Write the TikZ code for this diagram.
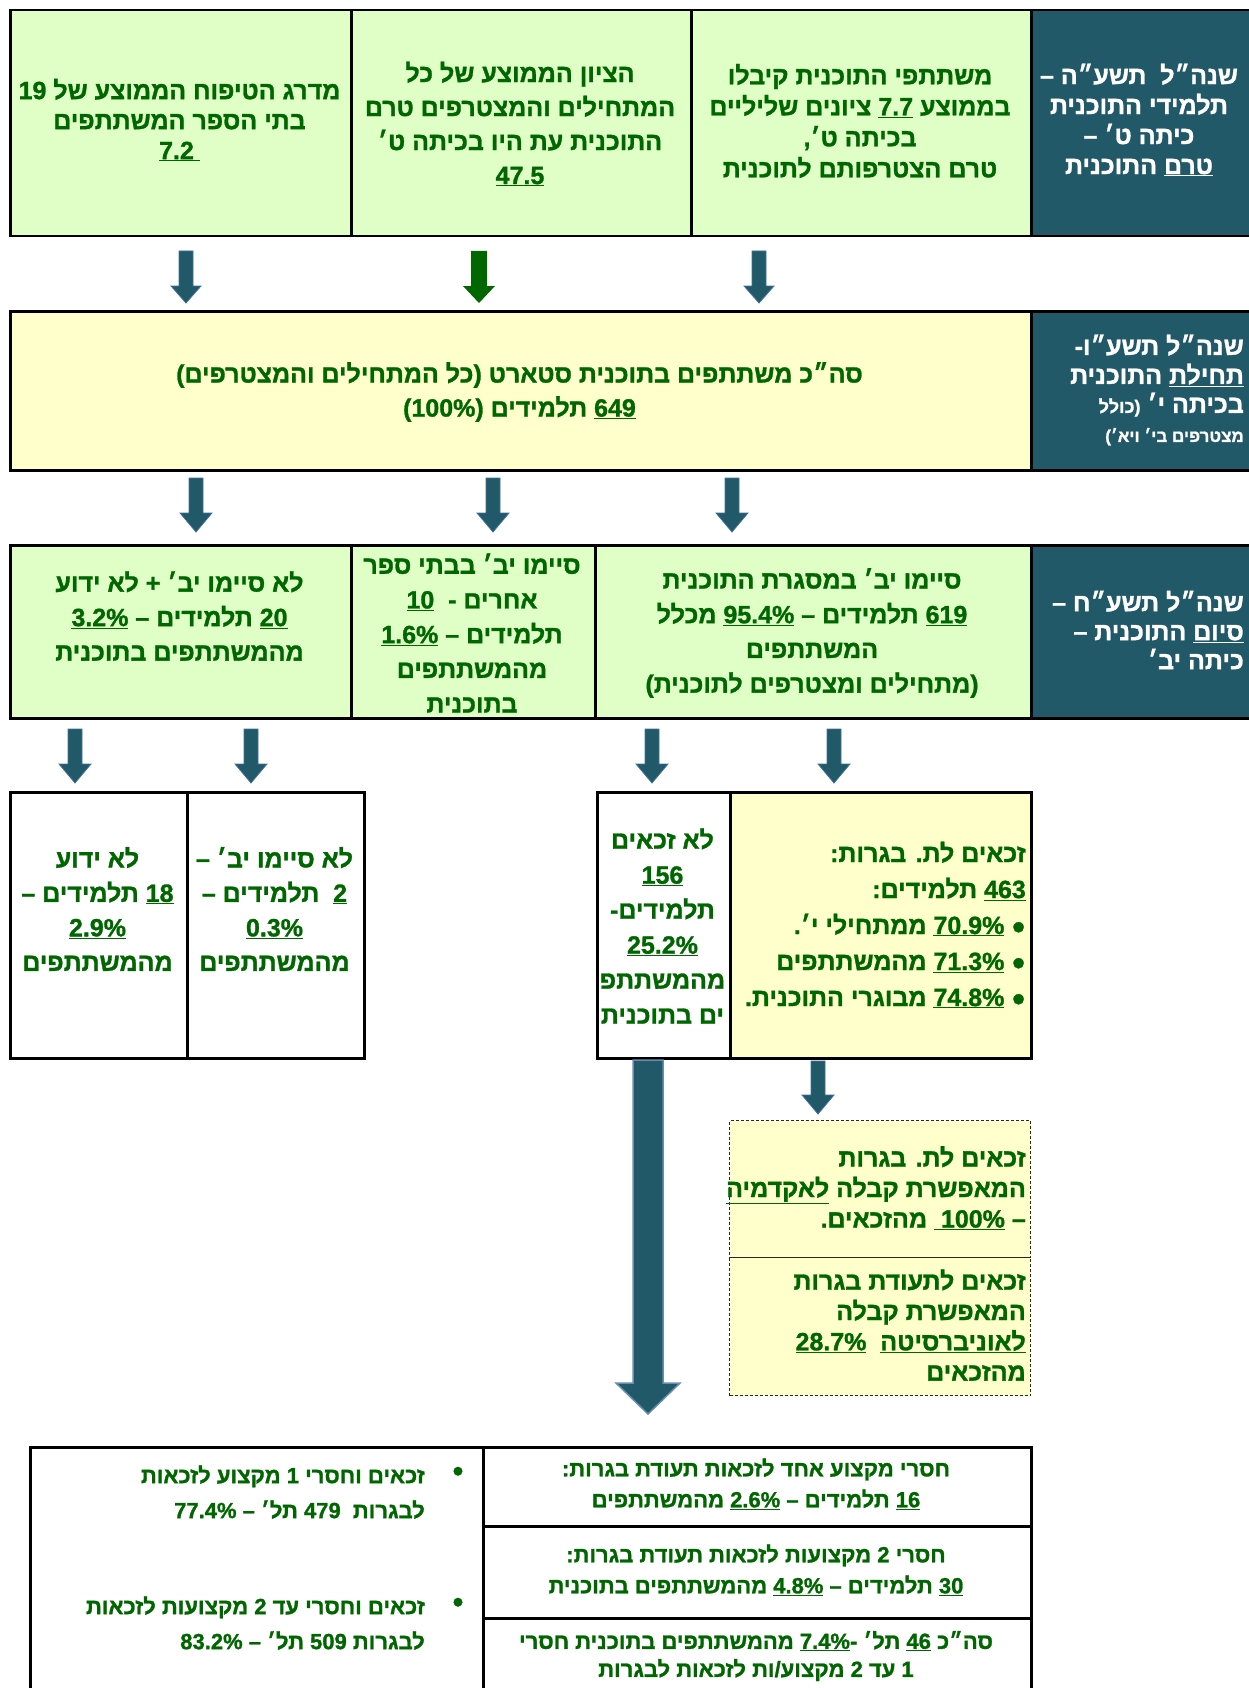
\documentclass[tikz,border=0pt]{standalone}
\usepackage{fontspec}
\newfontfamily\heb[Script=Hebrew, BoldFont={Liberation Sans Bold}, BoldFeatures={FakeBold=1.2}]{Liberation Sans}
\TeXXeTstate=1
\newcommand\R[1]{\beginR #1\endR}
\newcommand\uln[1]{\underline{#1}}
\newcommand\bul{{\fontsize{24}{24}\selectfont ●}}
\definecolor{hdr}{HTML}{215968}
\definecolor{tg}{HTML}{006600}
\definecolor{lg}{HTML}{E0FFC6}
\definecolor{ly}{HTML}{FFFFCC}
\definecolor{arredge}{HTML}{41719C}
\tikzset{
  cell/.style={draw=black, line width=2.5pt, anchor=north west, inner sep=0pt},
  dcell/.style={draw=black!85, line width=1.3pt, dash pattern=on 3pt off 2pt, anchor=north west, inner sep=0pt, fill=ly},
  txt/.style={font=\heb\bfseries\fontsize{25}{#1}\selectfont, text=tg, inner sep=0pt, align=center},
  txt/.default=32,
  stxt/.style={font=\heb\bfseries\fontsize{22}{#1}\selectfont, text=tg, inner sep=0pt, align=center},
  stxt/.default=31,
  tealarrow/.style={fill=hdr, draw=arredge, line width=0.8pt},
  greenarrow/.style={fill=tg},
}
\newcommand\barrow[6]{\begin{scope}[shift={(#1)}]\path[#6] (-#3,0) -- (#3,0) -- (#3,#2-#5) -- (#4,#2-#5) -- (0,#2) -- (-#4,#2-#5) -- (-#3,#2-#5) -- cycle;\end{scope}}
\begin{document}
\begin{tikzpicture}[x=1pt,y=-1pt]
\useasboundingbox (0,0) rectangle (1249,1688);

% ---------- row 1
\node[cell, fill=lg, minimum width=341pt, minimum height=226pt] (a1) at (9,9) {};
\node[cell, fill=lg, minimum width=340pt, minimum height=226pt] (a2) at (350,9) {};
\node[cell, fill=lg, minimum width=340pt, minimum height=226pt] (a3) at (690,9) {};
\node[cell, fill=hdr, minimum width=232pt, minimum height=226pt] (h1) at (1030,9) {};

\node[txt=30] (a1t) at (179.5,120) {\R{מדרג הטיפוח הממוצע של 19}\\ \R{בתי הספר המשתתפים}\\ \R{\uln{7.2\kern6pt}}};
\node[txt=34] (a2t) at (520,124) {\R{הציון הממוצע של כל}\\ \R{המתחילים והמצטרפים טרם}\\ \R{התוכנית עת היו בכיתה ט׳}\\ \R{\uln{47.5}}};
\node[txt=31] (a3t) at (860,121) {\R{משתתפי התוכנית קיבלו}\\ \R{בממוצע \uln{7.7} ציונים שליליים}\\ \R{בכיתה ט׳,}\\ \R{טרם הצטרפותם לתוכנית}};
\node[txt=30, text=white] (h1t) at (1139,120) {\R{שנה״ל \ תשע״ה –}\\ \R{תלמידי התוכנית}\\ \R{כיתה ט׳ –}\\ \R{\uln{טרם} התוכנית}};

% ---------- row 2
\node[cell, fill=ly, minimum width=1021pt, minimum height=159pt] (b1) at (9,310) {};
\node[cell, fill=hdr, minimum width=232pt, minimum height=159pt] (h2) at (1030,310) {};
\node[txt=34] (b1t) at (519.5,392) {\R{סה״כ משתתפים בתוכנית סטארט (כל המתחילים והמצטרפים)}\\ \R{\uln{649} תלמידים (100\%)}};
\node[txt=29, text=white, align=right, anchor=east] (h2t) at (1244,390) {\R{שנה״ל תשע״ו-}\\ \R{\uln{תחילת} התוכנית}\\ \R{בכיתה י׳ {\fontsize{18}{20}\selectfont(כולל}}\\ {\fontsize{17}{20}\selectfont\R{מצטרפים בי׳ ויא׳)}}};

% ---------- row 3
\node[cell, fill=lg, minimum width=341pt, minimum height=173pt] (c1) at (9,544) {};
\node[cell, fill=lg, minimum width=244pt, minimum height=173pt] (c2) at (350,544) {};
\node[cell, fill=lg, minimum width=436pt, minimum height=173pt] (c3) at (594,544) {};
\node[cell, fill=hdr, minimum width=232pt, minimum height=173pt] (h3) at (1030,544) {};
\node[txt=34.5] (c1t) at (179.5,616) {\R{לא סיימו יב׳ + לא ידוע}\\ \R{\uln{20} תלמידים – \uln{3.2\%}}\\ \R{מהמשתתפים בתוכנית}};
\node[txt=34.7] (c2t) at (472,633) {\R{סיימו יב׳ בבתי ספר}\\ \R{אחרים - \ \uln{10}}\\ \R{תלמידים – \uln{1.6\%}}\\ \R{מהמשתתפים}\\ \R{בתוכנית}};
\node[txt=34.7] (c3t) at (812,633) {\R{סיימו יב׳ במסגרת התוכנית}\\ \R{\uln{619} תלמידים – \uln{95.4\%} מכלל}\\ \R{המשתתפים}\\ \R{(מתחילים ומצטרפים לתוכנית)}};
\node[txt=29, text=white, align=right, anchor=east] (h3t) at (1244,630) {\R{שנה״ל תשע״ח –}\\ \R{\uln{סיום} התוכנית –}\\ \R{כיתה יב׳}};

% ---------- row 4
\node[cell, fill=white, minimum width=177pt, minimum height=266pt] (d1) at (9,791) {};
\node[cell, fill=white, minimum width=177pt, minimum height=266pt] (d2) at (186,791) {};
\node[cell, fill=white, minimum width=133pt, minimum height=266pt] (e1) at (596,791) {};
\node[cell, fill=ly, minimum width=301pt, minimum height=266pt] (e2) at (729,791) {};
\node[txt=34.5] (d1t) at (97.5,909) {\R{לא ידוע}\\ \R{\uln{18} תלמידים –}\\ \R{\uln{2.9\%}}\\ \R{מהמשתתפים}};
\node[txt=34.5] (d2t) at (274.5,909) {\R{לא סיימו יב׳ –}\\ \R{\uln{2} \ תלמידים –}\\ \R{\uln{0.3\%}}\\ \R{מהמשתתפים}};
\node[txt=35] (e1t) at (662.5,926) {\R{לא זכאים}\\ \R{\uln{156}}\\ \R{תלמידים-}\\ \R{\uln{25.2\%}}\\ \R{מהמשתתפ}\\ \R{ים בתוכנית}};
\node[txt=36, align=right, anchor=east] (e2t) at (1026,925) {\R{זכאים לת. בגרות:}\\ \R{\uln{463} תלמידים:}\\ \R{\bul\ \uln{70.9\%} ממתחילי י׳.}\\ \R{\bul\ \uln{71.3\%} מהמשתתפים}\\ \R{\bul\ \uln{74.8\%} מבוגרי התוכנית.}};

% ---------- dashed box
\node[dcell, minimum width=301pt, minimum height=137pt] (f1) at (729,1120) {};
\node[dcell, minimum width=301pt, minimum height=138pt] (f2) at (729,1257) {};
\node[txt=30.5, align=right, anchor=east] (f1t) at (1026,1188) {\R{זכאים לת. בגרות}\\ \R{המאפשרת קבלה \uln{לאקדמיה}}\\ \R{– \uln{\ 100\%} מהזכאים.}};
\node[txt=30.3, align=right, anchor=east] (f2t) at (1026,1325) {\R{זכאים לתעודת בגרות}\\ \R{המאפשרת קבלה}\\ \R{\uln{לאוניברסיטה} \ \uln{28.7\%}}\\ \R{מהזכאים}};

% ---------- bottom table
\node[cell, fill=white, minimum width=453pt, minimum height=270pt] (g) at (29,1446) {};
\node[cell, fill=white, minimum width=548pt, minimum height=79pt] (k1) at (482,1446) {};
\node[cell, fill=white, minimum width=548pt, minimum height=92pt] (k2) at (482,1525) {};
\node[cell, fill=white, minimum width=548pt, minimum height=100pt] (k3) at (482,1617) {};
\node[stxt=35, align=right, anchor=east] (g1t) at (425,1492) {\R{זכאים וחסרי 1 מקצוע לזכאות}\\ \R{לבגרות \ 479 תל׳ – 77.4\%}};
\node[stxt=35, align=right, anchor=east] (g2t) at (425,1623) {\R{זכאים וחסרי עד 2 מקצועות לזכאות}\\ \R{לבגרות 509 תל׳ – 83.2\%}};
\node[text=tg, inner sep=0pt, font=\heb\bfseries\fontsize{30}{30}\selectfont] (g1b) at (458,1474) {•};
\node[text=tg, inner sep=0pt, font=\heb\bfseries\fontsize{30}{30}\selectfont] (g2b) at (458,1605) {•};
\node[stxt=31] (k1t) at (756,1484) {\R{חסרי מקצוע אחד לזכאות תעודת בגרות:}\\ \R{\uln{16} תלמידים – \uln{2.6\%} מהמשתתפים}};
\node[stxt=31] (k2t) at (756,1570) {\R{חסרי 2 מקצועות לזכאות תעודת בגרות:}\\ \R{\uln{30} תלמידים – \uln{4.8\%} מהמשתתפים בתוכנית}};
\node[stxt=28] (k3t) at (756,1656) {\R{סה״כ \uln{46} תל׳ -\uln{7.4\%} מהמשתתפים בתוכנית חסרי}\\ \R{1 עד 2 מקצוע/ות לזכאות לבגרות}};

% ---------- arrows
\coordinate (r1a) at (186,251);
\coordinate (r1b) at (479,251);
\coordinate (r1c) at (759,251);
\barrow{r1a}{52}{7}{15}{17}{tealarrow}
\barrow{r1b}{52}{8}{16}{17}{greenarrow}
\barrow{r1c}{52}{7}{15}{17}{tealarrow}
\coordinate (r2a) at (196,478);
\coordinate (r2b) at (493,478);
\coordinate (r2c) at (732,478);
\barrow{r2a}{54}{7}{16}{19}{tealarrow}
\barrow{r2b}{54}{7}{16}{19}{tealarrow}
\barrow{r2c}{54}{7}{16}{19}{tealarrow}
\coordinate (r3a) at (75,729);
\coordinate (r3b) at (251,729);
\coordinate (r3c) at (652,729);
\coordinate (r3d) at (834,729);
\barrow{r3a}{54}{7}{16}{19}{tealarrow}
\barrow{r3b}{54}{7}{16}{19}{tealarrow}
\barrow{r3c}{54}{7}{16}{19}{tealarrow}
\barrow{r3d}{54}{7}{16}{19}{tealarrow}
\coordinate (r4a) at (818,1061);
\barrow{r4a}{53}{7}{16}{19}{tealarrow}
\coordinate (big) at (648,1060);
\barrow{big}{354}{15}{32}{31}{fill=hdr, draw=arredge!80, line width=1.5pt}
\end{tikzpicture}
\end{document}
